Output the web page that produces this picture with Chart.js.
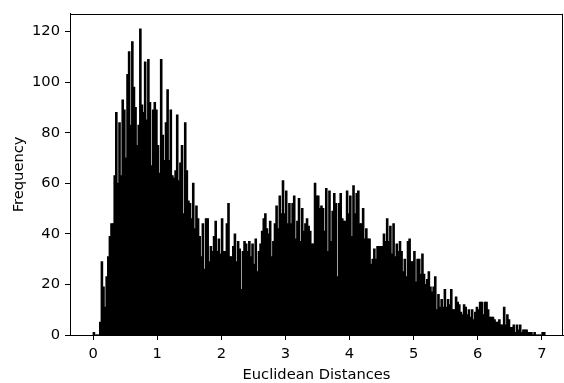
<!DOCTYPE html>
<html lang="en">
<head>
<meta charset="UTF-8">
<title>Euclidean Distances - Histogram</title>
<style>
    html, body { margin: 0; padding: 0; background: #fff; }
    #wrap { width: 564px; height: 383px; }
</style>
</head>
<body>
<div id="wrap"><canvas id="myChart" width="564" height="383"></canvas></div>

<script src="https://cdn.jsdelivr.net/npm/chart.js"></script>
<script>
    // histogram: bins of equal width starting at binStart
    var binStart = 0;
    var binWidth = 0.025;
    var counts = [
        1, 0, 0, 0, 5, 29, 19, 11, 23, 31, 39, 44, 44, 63, 88, 60, 84, 63, 93, 89,
        70, 103, 112, 83, 116, 98, 90, 75, 83, 121, 91, 88, 108, 85, 109, 92, 67, 89, 92, 89,
        75, 64, 109, 79, 69, 84, 97, 69, 89, 63, 62, 65, 87, 61, 68, 75, 48, 84, 65, 53,
        52, 46, 60, 42, 51, 46, 39, 31, 44, 26, 46, 46, 29, 35, 33, 39, 45, 33, 38, 32,
        46, 33, 33, 44, 52, 31, 31, 35, 40, 29, 37, 34, 18, 33, 37, 36, 33, 37, 31, 36,
        28, 38, 25, 33, 36, 41, 46, 48, 42, 40, 45, 31, 37, 44, 51, 42, 55, 48, 61, 48,
        57, 44, 52, 44, 52, 55, 38, 45, 54, 37, 50, 41, 44, 46, 43, 41, 36, 36, 60, 55,
        55, 50, 51, 50, 41, 58, 33, 57, 37, 49, 56, 52, 23, 52, 56, 46, 45, 45, 57, 48,
        55, 39, 59, 48, 56, 57, 44, 44, 50, 38, 42, 38, 38, 28, 30, 34, 30, 35, 35, 35,
        35, 40, 37, 46, 37, 43, 32, 44, 31, 36, 33, 37, 33, 25, 30, 23, 37, 38, 29, 29,
        33, 21, 30, 30, 24, 32, 24, 20, 22, 25, 19, 17, 19, 23, 10, 16, 11, 14, 11, 18,
        11, 14, 12, 18, 10, 10, 15, 13, 12, 9, 8, 12, 11, 8, 10, 7, 10, 6, 9, 11,
        10, 13, 13, 8, 13, 13, 10, 7, 7, 7, 6, 5, 5, 6, 4, 4, 11, 4, 8, 6,
        3, 3, 4, 1, 4, 2, 4, 1, 2, 2, 2, 1, 1, 1, 0, 1, 0, 0, 0, 0,
        1, 1
    ];
    var xTicks = [0, 1, 2, 3, 4, 5, 6, 7];
    var yTicks = [0, 20, 40, 60, 80, 100, 120];
    var xLimits = [-0.36, 7.33];
    var yLimits = [0, 127.05];

    var points = counts.map(function(c, i) {
        return { x: binStart + (i + 0.5) * binWidth, y: c };
    });

    var FONT = 'DejaVu Sans';
    Chart.defaults.font.family = FONT;
    Chart.defaults.color = '#000';

    // top and right spines
    var frame = {
        id: 'frame',
        afterDraw: function(chart) {
            var a = chart.chartArea, c = chart.ctx;
            c.save();
            c.strokeStyle = '#000';
            c.lineWidth = 1;
            c.beginPath();
            c.moveTo(a.left, Math.round(a.top) + 0.5);
            c.lineTo(a.right, Math.round(a.top) + 0.5);
            c.moveTo(Math.round(a.right) - 0.5, a.top);
            c.lineTo(Math.round(a.right) - 0.5, a.bottom);
            c.stroke();
            c.restore();
        }
    };

    new Chart('myChart', {
        type: 'bar',
        data: {
            datasets: [{
                data: points,
                backgroundColor: '#000',
                borderWidth: 0,
                barPercentage: 1.0,
                categoryPercentage: 1.0,
                inflateAmount: 0.5,
                grouped: false
            }]
        },
        options: {
            responsive: false,
            animation: false,
            events: [],
            layout: { padding: { top: 11, right: 1, left: 0, bottom: 0 } },
            plugins: { legend: { display: false }, tooltip: { enabled: false } },
            scales: {
                x: {
                    type: 'linear',
                    offset: false,
                    min: xLimits[0],
                    max: xLimits[1],
                    afterBuildTicks: function(s) {
                        s.ticks = xTicks.map(function(v) { return { value: v }; });
                    },
                    afterFit: function(s) { s.height = 48; },
                    ticks: { font: { size: 14.7 }, padding: 5, maxRotation: 0, autoSkip: false },
                    grid: { offset: false, drawOnChartArea: false, tickLength: 5, tickColor: '#000' },
                    border: { color: '#000', width: 1 },
                    title: { display: true, text: 'Euclidean Distances', font: { size: 14.7 }, padding: { top: 0, bottom: -1 } }
                },
                y: {
                    min: yLimits[0],
                    max: yLimits[1],
                    afterBuildTicks: function(s) {
                        s.ticks = yTicks.map(function(v) { return { value: v }; });
                    },
                    afterFit: function(s) { s.width = 70; },
                    ticks: { font: { size: 14.7 }, padding: 5, autoSkip: false },
                    grid: { drawOnChartArea: false, tickLength: 5, tickColor: '#000' },
                    border: { color: '#000', width: 1 },
                    title: { display: true, text: 'Frequency', font: { size: 14.7 }, padding: { top: 10, bottom: 0 } }
                }
            }
        },
        plugins: [frame]
    });
</script>
</body>
</html>
